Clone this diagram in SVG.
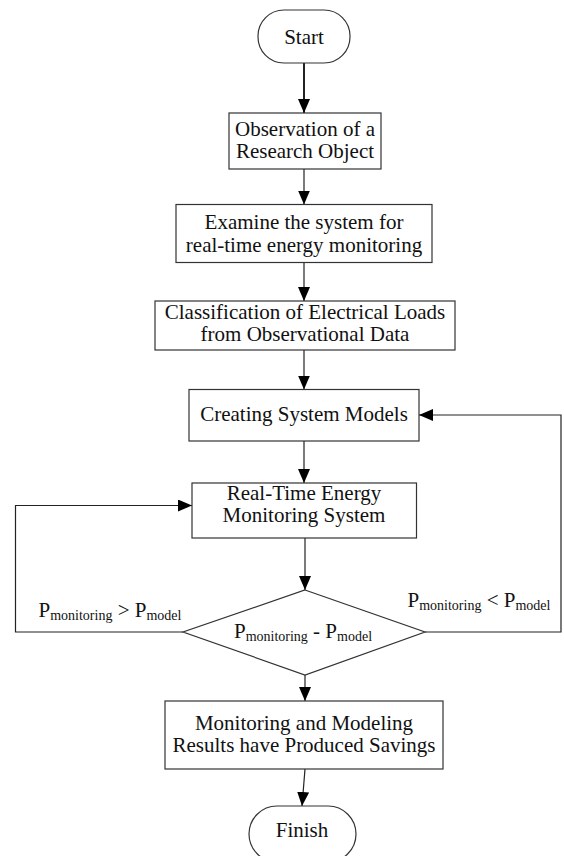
<svg xmlns="http://www.w3.org/2000/svg" width="564" height="856" viewBox="0 0 564 856">
<defs>
<style>
.n{fill:#fff;stroke:#333;stroke-width:1.2}
.t{font-family:"Liberation Serif","Times New Roman",serif;font-size:21px;fill:#111;text-anchor:middle}
.s{font-size:14px}
.c{fill:none;stroke:#222;stroke-width:1.2}
</style>
<marker id="ah" viewBox="0 0 14 12" refX="14" refY="6" markerWidth="14" markerHeight="12" markerUnits="userSpaceOnUse" orient="auto">
<path d="M0,0 L14,6 L0,12 Z" fill="#000"/>
</marker>
</defs>
<rect width="564" height="856" fill="#fff"/>
<g id="connectors">
<line class="c" x1="304" y1="63" x2="304" y2="113" marker-end="url(#ah)" style="stroke-width:2"/>
<line class="c" x1="304" y1="169" x2="304" y2="204.5" marker-end="url(#ah)"/>
<line class="c" x1="304" y1="262.5" x2="304" y2="301" marker-end="url(#ah)"/>
<line class="c" x1="304" y1="350" x2="304" y2="389.5" marker-end="url(#ah)"/>
<line class="c" x1="304" y1="441" x2="304" y2="483" marker-end="url(#ah)"/>
<line class="c" x1="305" y1="538" x2="305" y2="590" marker-end="url(#ah)"/>
<line class="c" x1="305" y1="675" x2="305" y2="701" marker-end="url(#ah)"/>
<line class="c" x1="305" y1="769" x2="302" y2="806" marker-end="url(#ah)"/>
<polyline class="c" points="183,632 15.5,632 15.5,505.5 192,505.5" marker-end="url(#ah)"/>
<polyline class="c" points="425,632 561,632 561,415 419,415" marker-end="url(#ah)"/>
<text class="t" x="110" y="617">P<tspan class="s" dy="3">monitoring</tspan><tspan dy="-3"> &gt; P</tspan><tspan class="s" dy="3">model</tspan></text>
<text class="t" x="479" y="607">P<tspan class="s" dy="3">monitoring</tspan><tspan dy="-3"> &lt; P</tspan><tspan class="s" dy="3">model</tspan></text>
</g>
<g id="start">
<rect class="n" x="258" y="10" width="92" height="53" rx="26" ry="26"/>
<text class="t" x="304" y="44">Start</text>
</g>
<g id="observation">
<rect class="n" x="229" y="113" width="152" height="56"/>
<text class="t" x="305" y="136">Observation of a</text>
<text class="t" x="305" y="158">Research Object</text>
</g>
<g id="examine">
<rect class="n" x="176" y="204.5" width="256" height="58"/>
<text class="t" x="304" y="229">Examine the system for</text>
<text class="t" x="304" y="252">real-time energy monitoring</text>
</g>
<g id="classification">
<rect class="n" x="155" y="301" width="300" height="49"/>
<text class="t" x="305" y="319">Classification of Electrical Loads</text>
<text class="t" x="305" y="341">from Observational Data</text>
</g>
<g id="models">
<rect class="n" x="189" y="389.5" width="230" height="51.5"/>
<text class="t" x="304" y="421">Creating System Models</text>
</g>
<g id="monitoring">
<rect class="n" x="192" y="483" width="224.5" height="55"/>
<text class="t" x="304" y="500">Real-Time Energy</text>
<text class="t" x="304" y="522">Monitoring System</text>
</g>
<g id="decision">
<polygon class="n" points="305,590 425,632 305,675 183,632"/>
<text class="t" x="303" y="638">P<tspan class="s" dy="3">monitoring</tspan><tspan dy="-3"> - P</tspan><tspan class="s" dy="3">model</tspan></text>
</g>
<g id="results">
<rect class="n" x="165" y="701" width="278" height="68"/>
<text class="t" x="304" y="730">Monitoring and Modeling</text>
<text class="t" x="304" y="752">Results have Produced Savings</text>
</g>
<g id="finish">
<rect class="n" x="249" y="806" width="107" height="56" rx="28" ry="28"/>
<text class="t" x="302" y="837">Finish</text>
</g>
</svg>
